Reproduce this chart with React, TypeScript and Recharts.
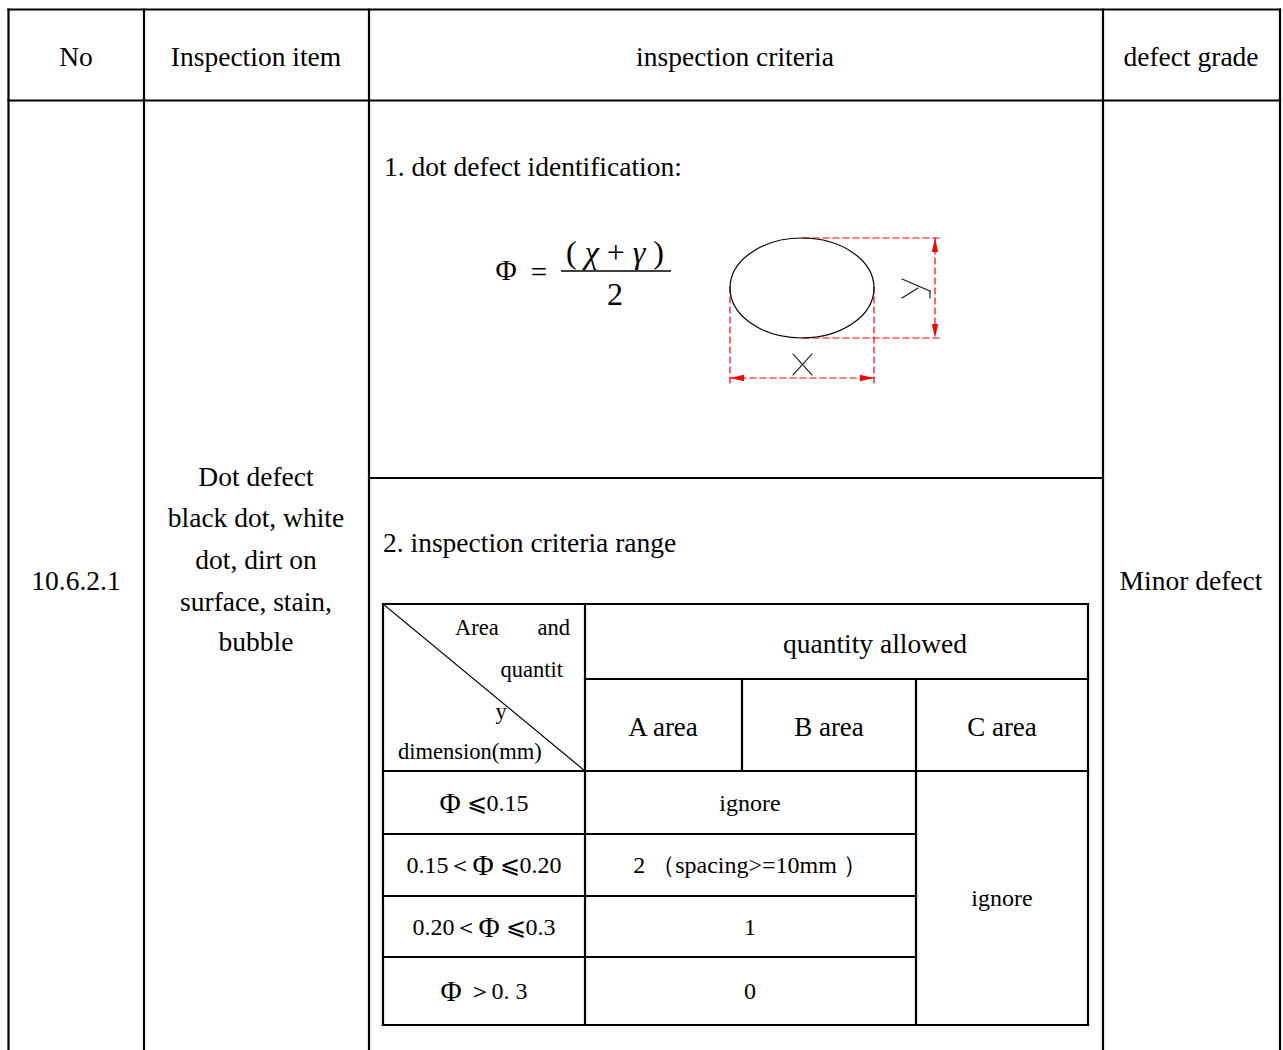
import React from "react";
import { ComposedChart, XAxis, YAxis, ReferenceLine, ReferenceDot } from "recharts";

// table texts
const headers = ["No", "Inspection item", "inspection criteria", "defect grade"];
const itemNo = "10.6.2.1";
const itemLines = ["Dot defect", "black dot, white", "dot, dirt on", "surface, stain,", "bubble"];
const grade = "Minor defect";
const sectionTitles = ["1. dot defect identification:", "2. inspection criteria range"];
const qtyHeader = "quantity allowed";
const areaNames = ["A area", "B area", "C area"];
const dimPrefix = ["", "0.15＜", "0.20＜", ""];
const dimSuffix = [" ⩽0.15", " ⩽0.20", " ⩽0.3", " ＞0. 3"];
const qtyValues = ["ignore", "2 （spacing>=10mm ）", "1", "0"];
const cAreaValue = "ignore";

const W = 1283;
const H = 1050;
const SERIF = "'Liberation Serif', 'Times New Roman', serif";

// layout of the outer table
const colX = [8.5, 144, 369, 1103, 1280];
const topY = 9.5;
const headY = 100.5;
const midY = 478;
const headerCx = [76, 256, 735, 1191];
const itemLineY = [476, 517, 559, 601, 641];

// layout of the inner table
const inX = [383, 585, 742, 916, 1088];
const inY = [604, 679, 771, 834, 896, 957, 1025];
const areaCx = [663, 829, 1002];
const rowCy = [803, 865, 927, 991];

type Seg = { x1: number; y1: number; x2: number; y2: number; w?: number };

const blackSegs: Seg[] = [
  ...colX.map((x) => ({ x1: x, y1: topY, x2: x, y2: H })),
  { x1: colX[0], y1: topY, x2: colX[4], y2: topY },
  { x1: colX[0], y1: headY, x2: colX[4], y2: headY },
  { x1: colX[2], y1: midY, x2: colX[3], y2: midY },
  { x1: inX[0], y1: inY[0], x2: inX[4], y2: inY[0] },
  { x1: inX[1], y1: inY[1], x2: inX[4], y2: inY[1] },
  { x1: inX[0], y1: inY[2], x2: inX[4], y2: inY[2] },
  { x1: inX[0], y1: inY[3], x2: inX[3], y2: inY[3] },
  { x1: inX[0], y1: inY[4], x2: inX[3], y2: inY[4] },
  { x1: inX[0], y1: inY[5], x2: inX[3], y2: inY[5] },
  { x1: inX[0], y1: inY[6], x2: inX[4], y2: inY[6] },
  { x1: inX[0], y1: inY[0], x2: inX[0], y2: inY[6] },
  { x1: inX[1], y1: inY[0], x2: inX[1], y2: inY[6] },
  { x1: inX[2], y1: inY[1], x2: inX[2], y2: inY[2] },
  { x1: inX[3], y1: inY[1], x2: inX[3], y2: inY[6] },
  { x1: inX[4], y1: inY[0], x2: inX[4], y2: inY[6] },
  { x1: inX[0], y1: inY[0], x2: inX[1], y2: inY[2], w: 1.2 },
];

const redSegs: Seg[] = [
  { x1: 803, y1: 238, x2: 940, y2: 238 },
  { x1: 803, y1: 338, x2: 940, y2: 338 },
  { x1: 935, y1: 238, x2: 935, y2: 338 },
  { x1: 730, y1: 287, x2: 730, y2: 386 },
  { x1: 874, y1: 287, x2: 874, y2: 386 },
  { x1: 730, y1: 378, x2: 874, y2: 378 },
];

const glyphSegs: Seg[] = [
  { x1: 793, y1: 354, x2: 812, y2: 375 },
  { x1: 812, y1: 354, x2: 793, y2: 375 },
  { x1: 902, y1: 279, x2: 930, y2: 291 },
  { x1: 902, y1: 298, x2: 918, y2: 288 },
  { x1: 930, y1: 291, x2: 930, y2: 298 },
];

type TextOpts = { size?: number; anchor?: "start" | "middle" | "end"; italic?: boolean };

const textShape =
  (content: React.ReactNode, o: TextOpts = {}) =>
  (p: any) =>
    (
      <text
        x={p.cx}
        y={p.cy}
        textAnchor={o.anchor ?? "middle"}
        dominantBaseline="central"
        fontFamily={SERIF}
        fontSize={o.size ?? 27.5}
        fontStyle={o.italic ? "italic" : "normal"}
        fill="#000"
      >
        {content}
      </text>
    );

const arrowShape = (dir: "up" | "down" | "left" | "right") => (p: any) => {
  const { cx, cy } = p;
  const L = 14;
  const h = 3.2;
  let pts = "";
  if (dir === "up") pts = `${cx},${cy} ${cx - h},${cy + L} ${cx + h},${cy + L}`;
  if (dir === "down") pts = `${cx},${cy} ${cx - h},${cy - L} ${cx + h},${cy - L}`;
  if (dir === "left") pts = `${cx},${cy} ${cx + L},${cy - h} ${cx + L},${cy + h}`;
  if (dir === "right") pts = `${cx},${cy} ${cx - L},${cy - h} ${cx - L},${cy + h}`;
  return <polygon points={pts} fill="#ff0000" />;
};

const ellipseShape = (p: any) => (
  <ellipse cx={p.cx} cy={p.cy} rx={72} ry={50} fill="none" stroke="#000" strokeWidth={1.2} />
);

const fractionShape = (p: any) => (
  <line x1={p.cx - 55} y1={p.cy} x2={p.cx + 55} y2={p.cy} stroke="#000" strokeWidth={1.5} />
);

const seg = (s: Seg, i: number, stroke: string, width: number, dash?: string) => (
  <ReferenceLine
    key={`${stroke}-${i}`}
    segment={[
      { x: s.x1, y: s.y1 },
      { x: s.x2, y: s.y2 },
    ]}
    stroke={stroke}
    strokeWidth={s.w ?? width}
    strokeDasharray={dash}
    strokeLinecap="square"
    ifOverflow="visible"
  />
);

const dot = (key: string, x: number, y: number, shape: any) => (
  <ReferenceDot key={key} x={x} y={y} r={1} shape={shape} ifOverflow="visible" />
);

export default function App() {
  return (
    <div style={{ position: "absolute", left: 0, top: 0, background: "#fff" }}>
      <ComposedChart width={W} height={H} data={[]} margin={{ top: 0, right: 0, bottom: 0, left: 0 }}>
        <XAxis type="number" dataKey="x" domain={[0, W]} allowDataOverflow hide />
        <YAxis type="number" dataKey="y" domain={[0, H]} allowDataOverflow reversed hide />

        {blackSegs.map((s, i) => seg(s, i, "#000", 2.2))}
        {redSegs.map((s, i) => seg(s, i, "#ff0000", 1.2, "6 4"))}
        {glyphSegs.map((s, i) => seg({ ...s, w: 1.1 }, i, "#111", 1.1))}

        {dot("ell", 802, 288, ellipseShape)}
        {dot("a-up", 935, 238, arrowShape("up"))}
        {dot("a-down", 935, 338, arrowShape("down"))}
        {dot("a-left", 730, 378, arrowShape("left"))}
        {dot("a-right", 874, 378, arrowShape("right"))}

        {/* formula */}
        {dot("phi", 506, 270, textShape("Φ", { size: 29 }))}
        {dot("eq", 539, 272, textShape("=", { size: 29 }))}
        {dot("frac", 616, 271, fractionShape)}
        {dot(
          "num",
          615,
          252,
          textShape(
            <>
              {"( "}
              <tspan fontStyle="italic">χ</tspan>
              {" + "}
              <tspan fontStyle="italic">γ</tspan>
              {" )"}
            </>,
            { size: 32 }
          )
        )}
        {dot("den", 615, 294, textShape("2", { size: 32 }))}

        {/* header */}
        {headers.map((h, i) => dot(`h-${i}`, headerCx[i], 56, textShape(h)))}
        {dot("no", headerCx[0], 580, textShape(itemNo))}
        {itemLines.map((t, i) => dot(`item-${i}`, headerCx[1], itemLineY[i], textShape(t)))}
        {dot("grade", headerCx[3], 580, textShape(grade))}
        {dot("s1", 384, 166, textShape(sectionTitles[0], { anchor: "start" }))}
        {dot("s2", 383, 542, textShape(sectionTitles[1], { anchor: "start" }))}

        {/* inner table */}
        {dot("qh", 875, 643, textShape(qtyHeader))}
        {areaNames.map((a, i) => dot(`area-${i}`, areaCx[i], 727, textShape(a, { size: 27 })))}
        {dot("c-area", 455, 627, textShape("Area", { size: 22.5, anchor: "start" }))}
        {dot("c-and", 570, 627, textShape("and", { size: 22.5, anchor: "end" }))}
        {dot("c-q", 563, 669, textShape("quantit", { size: 22.5, anchor: "end" }))}
        {dot("c-y", 501, 711, textShape("y", { size: 22.5 }))}
        {dot("c-d", 398, 751, textShape("dimension(mm)", { size: 22.5, anchor: "start" }))}
        {rowCy.map((cy, i) =>
          dot(
            `dim-${i}`,
            484,
            cy,
            textShape(
              <>
                <tspan fontSize={24}>{dimPrefix[i]}</tspan>
                <tspan fontSize={29}>Φ</tspan>
                <tspan fontSize={24}>{dimSuffix[i]}</tspan>
              </>
            )
          )
        )}
        {rowCy.map((cy, i) => dot(`qty-${i}`, 750, cy, textShape(qtyValues[i], { size: 24 })))}
        {dot("c-ign", 1002, 898, textShape(cAreaValue, { size: 24 }))}
      </ComposedChart>
    </div>
  );
}
